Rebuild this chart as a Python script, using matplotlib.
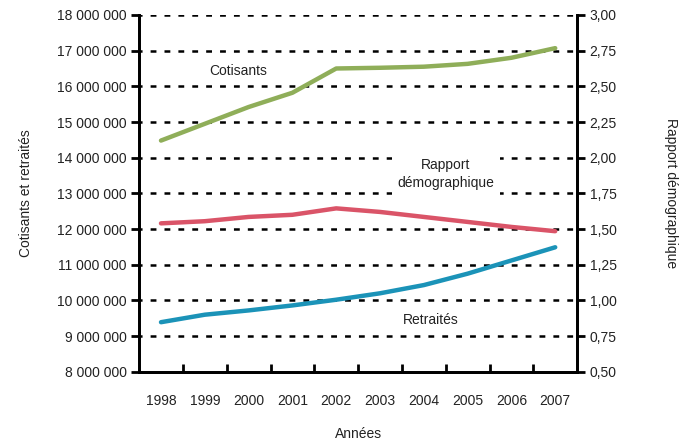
import matplotlib
matplotlib.use('Agg')
import matplotlib.pyplot as plt
from matplotlib.ticker import FuncFormatter, FixedLocator

plt.rcParams['font.family'] = ['Liberation Sans', 'DejaVu Sans']
plt.rcParams['lines.scale_dashes'] = False

# données
annees = ['1998', '1999', '2000', '2001', '2002', '2003', '2004', '2005', '2006', '2007']
cotisants = [14.48e6, 14.95e6, 15.42e6, 15.82e6, 16.50e6, 16.52e6, 16.55e6, 16.63e6, 16.80e6, 17.07e6]
retraites = [9.39e6, 9.60e6, 9.72e6, 9.86e6, 10.02e6, 10.20e6, 10.43e6, 10.75e6, 11.12e6, 11.49e6]
rapport = [1.54, 1.555, 1.585, 1.60, 1.645, 1.62, 1.585, 1.55, 1.515, 1.485]

c_vert = '#8fae59'
c_rouge = '#da5468'
c_bleu = '#1b93b8'
c_txt = '#222222'
fs = 10

fig = plt.figure(figsize=(6.92, 4.40), dpi=100)
ax = fig.add_axes([0.201, 0.155, 0.633, 0.811])
ax2 = ax.twinx()

x = range(len(annees))
ax.plot(x, cotisants, color=c_vert, lw=3.2, solid_capstyle='round')
ax.plot(x, retraites, color=c_bleu, lw=3.2, solid_capstyle='round')
ax2.plot(x, rapport, color=c_rouge, lw=3.2, solid_capstyle='round')

ax.set_xlim(-0.5, len(annees) - 0.5)
ax.set_ylim(8e6, 18e6)
ax2.set_ylim(0.5, 3.0)

ax.set_yticks([8e6 + i * 1e6 for i in range(11)])
ax.yaxis.set_major_formatter(FuncFormatter(lambda v, p: f'{int(v):,}'.replace(',', ' ')))
ax2.set_yticks([0.5 + i * 0.25 for i in range(11)])
ax2.yaxis.set_major_formatter(FuncFormatter(lambda v, p: f'{v:.2f}'.replace('.', ',')))

# libellés des années au centre, petites graduations entre les catégories
ax.set_xticks(list(x))
ax.set_xticklabels(annees)
ax.tick_params(axis='x', which='major', length=0, pad=16, labelsize=fs, labelcolor=c_txt)
ax.xaxis.set_minor_locator(FixedLocator([i + 0.5 for i in range(len(annees) - 1)]))
ax.tick_params(axis='x', which='minor', direction='in', length=6, width=2, color='black')

ax.tick_params(axis='y', direction='out', length=6, width=2, labelsize=fs, labelcolor=c_txt, pad=3)
ax2.tick_params(axis='y', direction='out', length=6, width=2, labelsize=fs, labelcolor=c_txt, pad=3)

# grille pointillée
for v in ax.get_yticks()[1:]:
    ax.axhline(v, color='black', lw=1.8, ls=(2, (4.2, 5.8)), zorder=0)

for a in (ax, ax2):
    a.spines['top'].set_visible(False)
    for s in ('left', 'right', 'bottom'):
        a.spines[s].set_linewidth(2)

ax.set_ylabel('Cotisants et retraités', fontsize=fs, color=c_txt, labelpad=17)
ax2.set_ylabel('Rapport démographique', fontsize=fs, color=c_txt, rotation=270, labelpad=44)
ax.set_xlabel('Années', fontsize=fs, color=c_txt, labelpad=14)

ax.text(1.76, 16.43e6, 'Cotisants', fontsize=fs, color=c_txt, ha='center', va='center')
ax.text(6.5, 13.55e6, 'Rapport\ndémographique', fontsize=fs, color=c_txt, ha='center', va='center',
        linespacing=1.35, bbox=dict(facecolor='white', edgecolor='none', pad=4))
ax.text(6.15, 9.46e6, 'Retraités', fontsize=fs, color=c_txt, ha='center', va='center')

fig.savefig('out.png', dpi=100)
